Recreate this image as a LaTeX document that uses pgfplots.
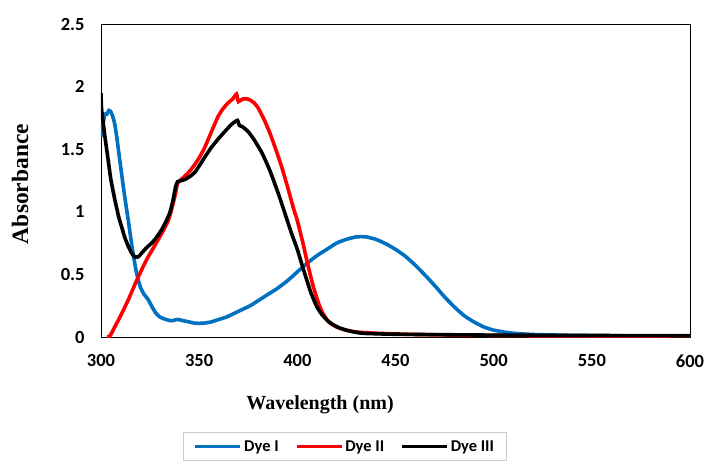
\documentclass[border=0pt]{standalone}
\usepackage{fontspec}
\setmainfont{Carlito}
\newfontfamily\timesfont{Liberation Serif}
\usepackage{pgfplots}
\pgfplotsset{compat=1.18}
\usetikzlibrary{calc}
\definecolor{dyeblue}{HTML}{0070C0}
\definecolor{dyered}{HTML}{FF0000}
\begin{document}
\begin{tikzpicture}
\begin{axis}[
  scale only axis, width=589pt, height=313pt,
  xmin=300, xmax=600, ymin=0, ymax=2.5,
  xtick={300,350,...,600}, ytick={0,0.5,...,2.5},
  major tick length=0pt,
  axis line style={black, line width=0.9pt},
  /pgf/number format/assume math mode=true,
  tick label style={font=\fontsize{18.5}{20}\selectfont\bfseries},
  yticklabel style={/pgf/number format/fixed, xshift=-13pt},
  xticklabel style={yshift=-14pt},
  xlabel={\timesfont\bfseries Wavelength (nm)},
  ylabel={\timesfont\bfseries Absorbance},
  xlabel style={font=\fontsize{20}{22}\selectfont, at={(axis description cs:0.372,-0.217)}, anchor=center},
  ylabel style={font=\fontsize{23.5}{26}\selectfont, at={(axis description cs:-0.1375,0.489)}, anchor=center},
  legend columns=3,
  legend style={at={(axis description cs:0.414,-0.3035)}, anchor=north, draw=gray!40, line width=0.8pt,
    font=\fontsize{16.5}{19}\selectfont\bfseries, inner xsep=10pt, inner ysep=6pt,
    /tikz/every even column/.append style={column sep=14pt}},
  legend image code/.code={\draw[#1] (0pt,0pt) -- (45pt,0pt);},
]
\addplot[dyeblue, line width=3.6pt, smooth, tension=0.3] coordinates {
(300,1.60)(301,1.70)(302,1.78)(303,1.78)(304,1.81)(305,1.80)(306,1.76)(307,1.70)(308,1.60)(309,1.48)(310,1.36)(312,1.13)(314,0.92)(316,0.70)(318,0.52)(320,0.40)(322,0.34)(324,0.30)(326,0.24)(328,0.19)(330,0.16)(333,0.14)(336,0.13)(339,0.14)(342,0.13)(345,0.12)(348,0.11)(352,0.11)(356,0.12)(360,0.14)(364,0.16)(368,0.19)(372,0.22)(376,0.25)(380,0.29)(385,0.34)(390,0.39)(395,0.45)(400,0.52)(405,0.59)(410,0.65)(415,0.70)(420,0.75)(425,0.78)(430,0.80)(435,0.80)(440,0.78)(445,0.745)(450,0.70)(455,0.645)(460,0.575)(465,0.495)(470,0.41)(475,0.32)(480,0.24)(485,0.17)(490,0.12)(495,0.08)(500,0.055)(505,0.04)(510,0.03)(520,0.02)(540,0.013)(560,0.01)(580,0.008)(600,0.007)
};
\addlegendentry{Dye I}
\addplot[dyered, line width=3.6pt, smooth, tension=0.3] coordinates {
(303,0)(304,0)(305,0.02)(307,0.08)(310,0.17)(314,0.30)(317,0.41)(319,0.48)(322,0.58)(324,0.64)(327,0.72)(331,0.83)(334,0.92)(336,1.02)(338,1.15)(339,1.23)(341,1.26)(343,1.29)(346,1.34)(350,1.43)(353,1.52)(356,1.63)(359.6,1.76)(362,1.82)(364.7,1.87)(367,1.90)(369,1.94)(370,1.88)(372,1.90)(375,1.90)(378,1.87)(380,1.83)(383,1.74)(386,1.63)(389,1.50)(392,1.36)(395,1.20)(398,1.03)(400,0.93)(403,0.74)(405,0.60)(408,0.41)(411,0.26)(413,0.19)(416,0.12)(420,0.08)(425,0.055)(430,0.04)(440,0.03)(460,0.02)(500,0.012)(550,0.008)(600,0.005)
};
\addlegendentry{Dye II}
\addplot[black, line width=3.6pt, smooth, tension=0.3] coordinates {
(300,1.95)(300.3,1.82)(302,1.60)(303.6,1.42)(305,1.26)(307,1.10)(309,0.96)(310.5,0.88)(312,0.80)(314,0.72)(316,0.66)(317.3,0.64)(319,0.64)(320.7,0.67)(323,0.71)(325.8,0.75)(328,0.79)(331,0.86)(333,0.92)(335,0.99)(336.5,1.08)(338,1.20)(339,1.24)(341,1.25)(343,1.26)(346,1.29)(348,1.32)(351,1.39)(353,1.44)(356,1.51)(359.6,1.58)(363,1.64)(366.6,1.70)(369.5,1.73)(370.5,1.69)(372,1.68)(375,1.64)(378,1.575)(382,1.47)(386,1.33)(390,1.16)(393,1.02)(397,0.83)(400,0.70)(402.5,0.57)(404.8,0.456)(407,0.35)(410,0.24)(412.5,0.18)(415,0.136)(418,0.10)(421.8,0.07)(426,0.05)(433,0.03)(450,0.022)(500,0.015)(550,0.012)(600,0.01)
};
\addlegendentry{Dye III}
\coordinate (ll) at (rel axis cs:0,0);
\end{axis}
\pgfresetboundingbox
\path[use as bounding box] ($(ll)+(-101pt,-129pt)$) rectangle ($(ll)+(606pt,337pt)$);
\end{tikzpicture}
\end{document}
